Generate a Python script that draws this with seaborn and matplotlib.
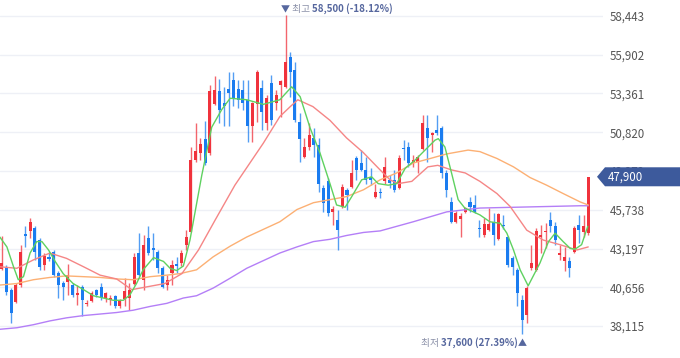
import numpy as np
import pandas as pd
import matplotlib
matplotlib.use("Agg")
import matplotlib.pyplot as plt
import seaborn as sns
from matplotlib.patches import Polygon

# ---------------- data ----------------
opens = [41850, 42000, 40450, 39700, 40800, 44150, 44350, 44550, 43750, 42100,
         42650, 43000, 41600, 40950, 41000, 40800, 40150, 40700, 39550, 39750,
         40450, 40700, 39950, 39800, 40050, 39450, 39900, 39950, 40900, 42900,
         41150, 43900, 43250, 43000, 41900, 40800, 41600, 42200, 42250, 43450,
         44300, 49000, 49450, 50400, 49450, 52700, 53500, 52750, 53650, 54250,
         53650, 53600, 52950, 51200, 52700, 53700, 51400, 54050, 52750, 53900,
         53800, 55750, 54900, 51500, 49200, 49850, 50450, 50000, 47150, 47600,
         45600, 45050, 45950, 47050, 47250, 49150, 48800, 48350, 47900, 46600,
         46900, 47600, 47700, 47700, 47150, 49750, 49850, 48800, 48900, 49750,
         51100, 50650, 51000, 51100, 48150, 46250, 44950, 45150, 45600, 46250,
         46050, 44500, 44100, 44400, 44950, 43850, 44750, 43950, 42600, 41800,
         39800, 38850, 41900, 41800, 43950, 44250, 45050, 44650, 42750, 42350,
         42350, 43000, 44750, 44300, 44200]
closes = [42250, 40350, 38950, 40800, 43000, 44000, 44950, 43000, 42000, 42700,
          42500, 41450, 40800, 40700, 41450, 40150, 40300, 39800, 39600, 40300,
          40150, 39950, 40300, 39950, 39400, 39800, 40400, 40500, 42650, 41450,
          43450, 42900, 43100, 41900, 40650, 41150, 42100, 42050, 42900, 43950,
          49000, 49600, 50050, 48800, 53500, 53600, 52300, 52550, 53400, 53050,
          52950, 52750, 51200, 52750, 54800, 52150, 53050, 51600, 53250, 54150,
          55450, 54800, 51600, 50400, 49850, 50650, 50000, 47450, 46200, 45500,
          45800, 44400, 47250, 46700, 48150, 48350, 48350, 47700, 47700, 46900,
          46850, 48550, 47500, 47050, 49150, 49700, 48800, 49000, 49200, 51400,
          50450, 50750, 50800, 48150, 47050, 44950, 45500, 45350, 45850, 45950,
          45600, 44450, 44800, 44800, 44100, 45450, 44650, 42100, 42000, 40250,
          38500, 40600, 42250, 44350, 44100, 44350, 44650, 43750, 42900, 42650,
          41900, 44550, 44400, 44650, 47900]
highs = [44000, 42100, 40600, 40950, 43450, 44650, 45200, 44650, 43900, 42900,
         43000, 43100, 41700, 41050, 42200, 40950, 40800, 40800, 39800, 40400,
         40550, 40950, 40350, 40150, 40150, 39900, 41250, 40950, 42900, 44200,
         44100, 44650, 44200, 43100, 42050, 41450, 42450, 42650, 43100, 44400,
         49850, 51400, 50450, 51550, 53900, 54500, 54300, 53800, 54800, 54750,
         54250, 54250, 54250, 52800, 54900, 54250, 53250, 54550, 53600, 54250,
         58500, 56050, 55450, 52100, 50450, 51400, 51100, 50450, 47350, 47800,
         46000, 45700, 47450, 47150, 49000, 49250, 49650, 49200, 48450, 47450,
         47150, 49200, 48000, 48350, 49350, 50300, 50200, 49350, 49350, 51950,
         51950, 50850, 51950, 51200, 48350, 46600, 45650, 45500, 45950, 46600,
         46700, 45050, 45200, 45850, 45500, 45500, 45400, 44000, 42700, 41900,
         40150, 40750, 43450, 44550, 44750, 44850, 45600, 44950, 43450, 43300,
         42650, 44650, 45400, 45400, 47900]
lows = [41800, 40150, 38300, 39650, 40650, 43300, 43900, 42450, 41800, 41800,
        42350, 41350, 39950, 39800, 40150, 40000, 39500, 38800, 39450, 39700,
        40000, 39800, 39700, 39500, 39300, 39300, 39400, 39150, 40800, 41400,
        40500, 42750, 42450, 41600, 40600, 40500, 40800, 41600, 42050, 43100,
        44300, 48850, 49000, 48650, 49350, 52600, 51450, 51200, 51200, 52550,
        52400, 52300, 50200, 50200, 51500, 50950, 50950, 51300, 52300, 51850,
        53700, 53150, 51500, 48900, 49150, 49650, 49200, 46900, 45600, 45300,
        44750, 43100, 45850, 45700, 47150, 47700, 48250, 47450, 47350, 46500,
        46500, 47450, 47150, 46900, 47100, 49000, 48550, 48550, 48150, 49650,
        48900, 49550, 50650, 47800, 46600, 44850, 44850, 43950, 45500, 45600,
        45500, 43950, 43950, 44350, 43450, 43750, 44500, 42000, 41450, 39400,
        37600, 38300, 41800, 41700, 42900, 43200, 44300, 43450, 42450, 41700,
        41350, 42900, 43550, 43950, 44100]

# moving averages (day index, price)
ma5_day = [-0.4, 1.1, 2.5, 3.5, 4.6, 6.0, 7.4, 8.5, 9.9, 11.3, 13.0, 15.1, 17.3, 19.4,
           21.5, 23.6, 25.7, 27.1, 28.5, 29.9, 32.1, 34.2, 35.6, 37.0, 38.4, 39.8,
           42.3, 44.4, 46.5, 48.3, 51.8, 55.3, 58.8, 61.3, 63.1, 65.2, 67.3, 69.4,
           70.8, 72.6, 74.0, 76.1, 78.2, 79.6, 81.7, 83.5, 85.3, 87.4, 89.5, 91.6,
           92.3, 93.7, 95.1, 96.5, 97.9, 99.0, 101.1, 103.2, 105.4, 106.8, 108.2,
           109.6, 111.3, 113.8, 115.6, 117.0, 118.7, 120.2, 121.2, 122.6, 123.9]
ma5_val = [43950, 43300, 42000, 41150, 41350, 42900, 43650, 43650, 43100, 42350,
           41550, 40900, 40500, 40100, 39950, 39800, 39800, 40150, 40900, 41800,
           42600, 42350, 41900, 41750, 42050, 43750, 48000, 51150, 52300, 53050,
           52950, 52650, 52950, 53800, 53150, 51100, 49450, 47450, 46050, 45900,
           46600, 47700, 47900, 47450, 47350, 47450, 48450, 49000, 49650, 50300,
           50400, 49850, 48150, 46400, 45850, 45700, 45400, 44950, 44850, 44200,
           43100, 41800, 40750, 42250, 43650, 44200, 43650, 43200, 43150, 43450,
           44650]
ma20_day = [-0.4, 3.2, 6.7, 10.2, 13.7, 17.3, 20.8, 24.3, 27.5, 31.0, 34.5, 38.1,
            41.6, 45.1, 49.3, 55.3, 58.8, 61.0, 62.6, 65.8, 69.4, 72.9, 76.4, 80.0,
            82.1, 83.8, 86.7, 90.1, 92.2, 95.1, 98.0, 101.1, 104.7, 107.5, 111.0,
            114.5, 118.0, 121.6, 124.0]
ma20_val = [42000, 41900, 42450, 42900, 42550, 42000, 41450, 41200, 40500, 40700,
            40900, 41550, 43100, 45050, 47350, 50100, 51850, 52500, 52950, 52500,
            51600, 50450, 49500, 48350, 47700, 47450, 47600, 48550, 48650, 48350,
            48150, 47600, 46800, 45950, 44400, 43750, 43450, 43100, 43300]
ma60_day = [-0.4, 3.2, 6.7, 10.2, 13.7, 17.3, 20.8, 24.3, 27.8, 31.4, 34.9, 37.7,
            41.2, 44.7, 48.3, 51.8, 55.3, 58.8, 62.4, 65.9, 69.4, 72.9, 76.5, 80.0,
            83.5, 87.0, 90.6, 94.1, 98.6, 101.1, 104.7, 108.2, 111.7, 115.2, 118.7,
            122.3, 124.0]
ma60_val = [40800, 40900, 41150, 41300, 41400, 41350, 41300, 41200, 41150, 41350,
            41450, 41550, 41800, 42650, 43350, 43950, 44450, 44950, 45750, 46200,
            46400, 46600, 47050, 47700, 48150, 48800, 49100, 49400, 49650, 49550,
            49100, 48550, 47850, 47350, 46800, 46250, 46050]
ma120_day = [-0.4, 3.2, 6.7, 10.2, 13.7, 17.3, 20.8, 24.3, 27.8, 31.4, 34.9, 38.4,
             41.2, 44.7, 48.3, 51.8, 55.3, 58.8, 62.4, 65.9, 69.4, 72.9, 76.5, 80.0,
             87.0, 94.1, 101.1, 108.2, 115.2, 122.3, 124.0]
ma120_val = [37900, 38000, 38200, 38450, 38650, 38800, 38900, 39000, 39150, 39400,
             39600, 39950, 40100, 40600, 41250, 41900, 42400, 42900, 43300, 43650,
             43800, 44050, 44250, 44350, 44950, 45600, 45850, 45900, 45950, 46000,
             46000]

tick_values = [38115, 40656, 43197, 45738, 48279, 50820, 53361, 55902, 58443]
high_word = "최고"
low_word = "최저"

# ---------------- style ----------------
RED = "#f0323c"
BLUE = "#1a7cf0"
C_MA5 = "#5fd160"
C_MA20 = "#f58686"
C_MA60 = "#fcb074"
C_MA120 = "#b47ff7"
TAG = "#3d5a9c"
NOTE_BLUE = "#56679e"
NOTE_GRAY = "#8a90a8"

sns.set_theme(style="white")
plt.rcParams["font.family"] = ["Noto Sans CJK KR", "DejaVu Sans"]

W, H = 680, 358
fig = plt.figure(figsize=(W / 100, H / 100), dpi=100)
fig.patch.set_facecolor("white")
ax = fig.add_axes([0, 0, 603 / W, 1])
ax.set_facecolor("white")

df = pd.DataFrame({"day": np.arange(len(opens)), "open": opens, "close": closes,
                   "high": highs, "low": lows})
up = df["close"] >= df["open"]
colors = np.where(up, RED, BLUE)

# grid
for v in tick_values:
    ax.axhline(v, color="#eef0f6", lw=1.0, zorder=0)

# wicks + bodies
ax.vlines(df["day"], df["low"], df["high"], colors=colors, lw=1.0, alpha=0.75, zorder=2)
body_lo = np.minimum(df["open"], df["close"])
body_h = np.maximum((df["close"] - df["open"]).abs(), 60)
ax.bar(df["day"], body_h, bottom=body_lo, width=0.64, color=colors, linewidth=0, zorder=3)

# moving averages
for d, v, c in [(ma120_day, ma120_val, C_MA120), (ma60_day, ma60_val, C_MA60),
                (ma20_day, ma20_val, C_MA20), (ma5_day, ma5_val, C_MA5)]:
    sns.lineplot(x=d, y=v, ax=ax, color=c, lw=1.0, zorder=4, legend=False)

ax.set_xlim(-0.36, 127.12)
ax.set_ylim(36017, 59492)
for s in ax.spines.values():
    s.set_visible(False)
ax.set_xticks([])
ax.yaxis.tick_right()
ax.set_yticks(tick_values)
ax.set_yticklabels([f"{v:,}" for v in tick_values])
ax.tick_params(axis="y", length=0, pad=5, labelsize=8.3, labelcolor="#555555")
ax.set_xlabel("")
ax.set_ylabel("")

# high / low notes
last = closes[-1]
hi_i = int(np.argmax(highs))
lo_i = int(np.argmin(lows))
hi = highs[hi_i]
lo = lows[lo_i]
fs = 7.0
t1 = ax.annotate("▼", xy=(hi_i, hi), xytext=(0, 4.0), textcoords="offset points",
                 ha="center", va="center", fontsize=6.5, color=NOTE_BLUE)
t2 = ax.annotate(" " + high_word + " ", xy=(1, 0), xycoords=t1, ha="left", va="bottom",
                 fontsize=fs, color=NOTE_GRAY)
t3 = ax.annotate(f"{hi:,} ({(last - hi) / hi * 100:.2f}%)", xy=(1, 0), xycoords=t2,
                 ha="left", va="bottom", fontsize=fs, color=NOTE_BLUE, fontweight="bold")

b1 = ax.annotate("▲", xy=(lo_i, lo), xytext=(0, -7.0), textcoords="offset points",
                 ha="center", va="center", fontsize=6.5, color=NOTE_BLUE)
b2 = ax.annotate(f"{lo:,} ({(last - lo) / lo * 100:.2f}%)", xy=(0, 0), xycoords=b1,
                 ha="right", va="bottom", fontsize=fs, color=NOTE_BLUE, fontweight="bold")
b3 = ax.annotate(low_word + " ", xy=(0, 0), xycoords=b2, ha="right", va="bottom",
                 fontsize=fs, color=NOTE_GRAY)

# current price tag
fig.canvas.draw()
_, ypix = ax.transData.transform((0, last))
x0 = 597 / W
x1 = 605 / W
half = 9.5 / H
yf = ypix / H
tag = Polygon([[x0, yf], [x1, yf + half], [1.0, yf + half], [1.0, yf - half], [x1, yf - half]],
              closed=True, transform=fig.transFigure, facecolor=TAG, edgecolor="none", zorder=10)
fig.patches.append(tag)
fig.text(608 / W, yf, f"{last:,}", color="white", fontsize=8.3, ha="left", va="center",
         zorder=11)

fig.savefig("out.png", dpi=100, facecolor="white")
